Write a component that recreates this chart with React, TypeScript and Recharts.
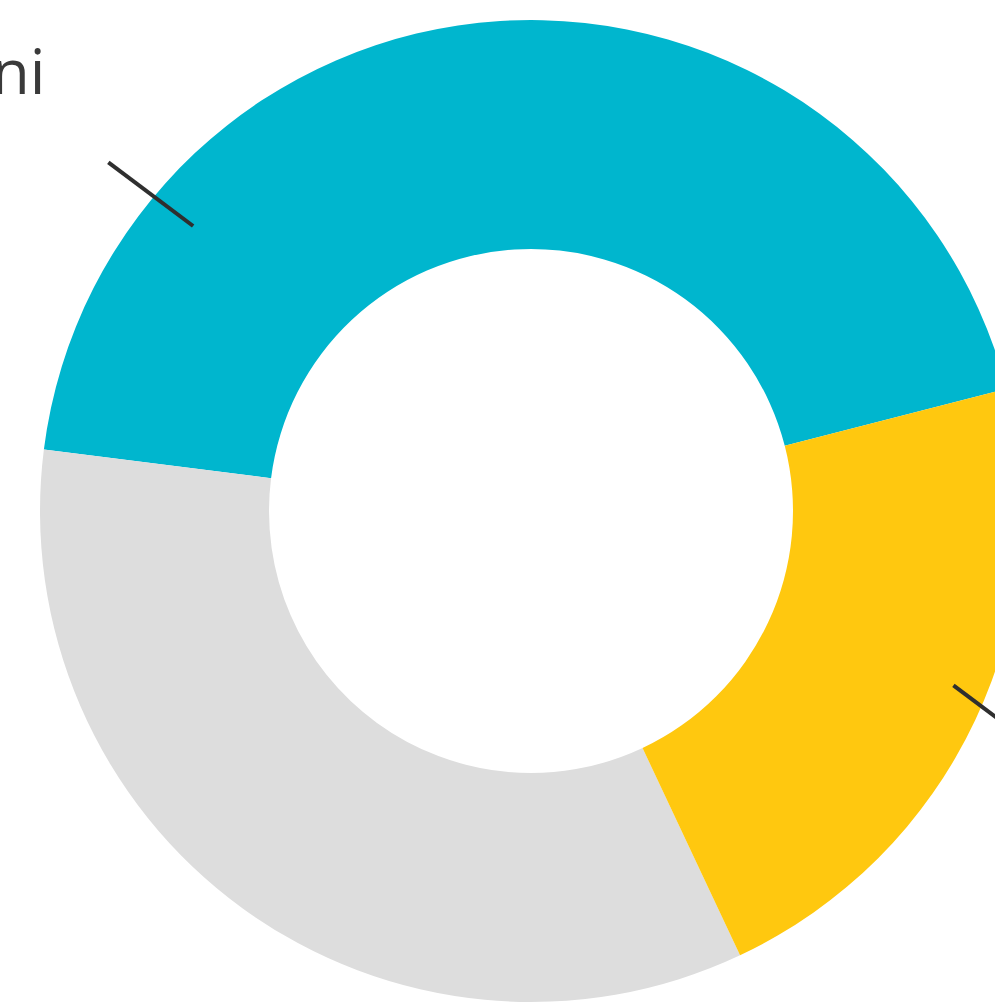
import { Cell, Pie, PieChart } from "recharts";

const categories = ["Uomini", "Altri", "Donne"];
const shares = [44, 34, 22];
const colors = ["#00B6CE", "#DDDDDD", "#FFC80F"];

const data = categories.map((name, i) => ({ name, value: shares[i] }));

const RAD = Math.PI / 180;

// leader placement per slice: where along the arc the tick sits, and where the text goes
const leaders: Record<number, { t: number; r0: number; r1: number; tx: number; ty: number; anchor: "start" | "end" }> = {
  0: { t: 0.792, r0: 442, r1: 548, tx: -63, ty: -68, anchor: "end" },
  2: { t: 0.535, r0: 457, r1: 560, tx: 40, ty: 40, anchor: "start" },
};

function renderLabel(props: any) {
  const { cx, cy, startAngle, endAngle, index, name } = props;
  const cfg = leaders[index];
  if (!cfg) return null;
  const a = (startAngle + cfg.t * (endAngle - startAngle)) * RAD;
  const x0 = cx + cfg.r0 * Math.cos(a);
  const y0 = cy - cfg.r0 * Math.sin(a);
  // leaders run at a fixed slant in the original
  const dir = Math.cos(a) < 0 ? -1 : 1;
  const len = cfg.r1 - cfg.r0;
  const x1 = x0 + dir * len * 0.8;
  const y1 = y0 + dir * len * 0.6;
  return (
    <g>
      <line x1={x0} y1={y0} x2={x1} y2={y1} stroke="#2f2f2f" strokeWidth={4} />
      <text
        x={x1 + cfg.tx}
        y={y1 + cfg.ty}
        textAnchor={cfg.anchor}
        fontFamily="'Open Sans', sans-serif"
        fontWeight={400}
        fontSize={62}
        fill="#3a3a3a"
      >
        {name}
      </text>
    </g>
  );
}

export default function App() {
  return (
    <div style={{ position: "fixed", left: 0, top: 0, width: 995, height: 1003, background: "#fff", overflow: "hidden" }}>
      <PieChart width={995} height={1003} margin={{ top: 0, right: 0, bottom: 0, left: 0 }}>
        <Pie
          data={data}
          dataKey="value"
          nameKey="name"
          cx={531}
          cy={511}
          innerRadius={262}
          outerRadius={491}
          startAngle={14.4}
          endAngle={374.4}
          stroke="none"
          label={renderLabel}
          labelLine={false}
          isAnimationActive={false}
        >
          {data.map((d, i) => (
            <Cell key={d.name} fill={colors[i]} />
          ))}
        </Pie>
      </PieChart>
    </div>
  );
}
